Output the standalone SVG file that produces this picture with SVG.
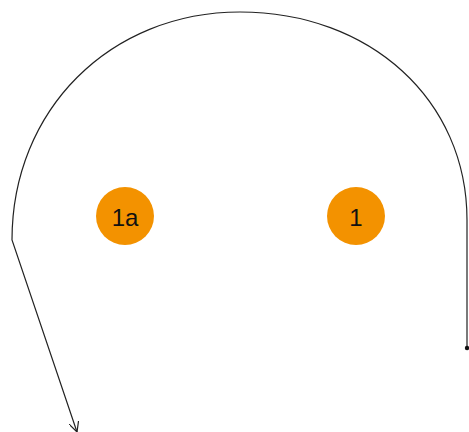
<svg xmlns="http://www.w3.org/2000/svg" width="469" height="432" viewBox="0 0 469 432">
<style>
.node{fill:#f39200;stroke:none}
.lbl{font-family:"Liberation Sans",Arial,sans-serif;font-size:24px;fill:#111;text-anchor:middle}
.edge{fill:none;stroke:#222;stroke-width:1.2}
</style>
<defs>
<marker id="arr" viewBox="0 0 10 10" refX="10" refY="5" markerWidth="10" markerHeight="10" markerUnits="userSpaceOnUse" orient="auto">
<path d="M0,0 L10,5 L0,10" fill="none" stroke="#222" stroke-width="1.2"/>
</marker>
</defs>
<rect width="469" height="432" fill="#fff"/>
<g id="connectors">
<path class="edge" d="M467,348 L467,220 C467,100 370,12 240,12 C110,12 12,110 12,240 L77,432" marker-end="url(#arr)"/>
<circle cx="467" cy="348" r="2.2" fill="#111"/>
</g>
<g id="node-1a">
<circle class="node" cx="125" cy="216" r="29"/>
<text class="lbl" x="125" y="226">1a</text>
</g>
<g id="node-1">
<circle class="node" cx="356" cy="216" r="29"/>
<text class="lbl" x="356" y="226">1</text>
</g>
</svg>
